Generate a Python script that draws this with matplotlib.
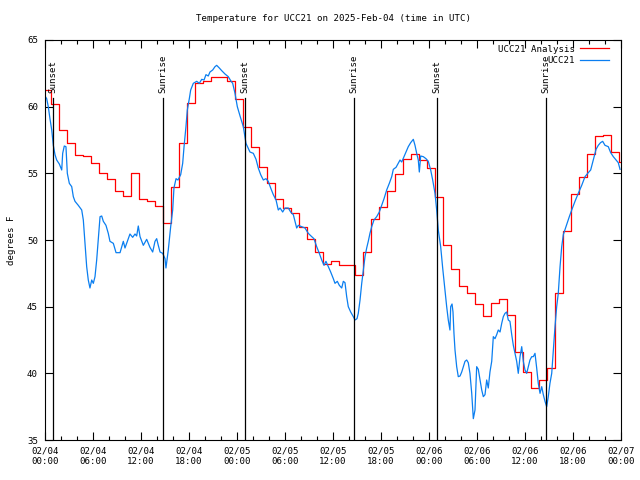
import numpy as np
import matplotlib
matplotlib.use("Agg")
from matplotlib import pyplot as plt
from matplotlib.ticker import MultipleLocator

# hours since 02/04 00:00 UTC
tick_labels = ["02/04\n00:00", "02/04\n06:00", "02/04\n12:00", "02/04\n18:00",
               "02/05\n00:00", "02/05\n06:00", "02/05\n12:00", "02/05\n18:00",
               "02/06\n00:00", "02/06\n06:00", "02/06\n12:00", "02/06\n18:00",
               "02/07\n00:00"]

sun_hours = [1.04, 14.79, 25.0, 38.66, 49.04, 62.66]
sun_labels = ["Sunset", "Sunrise", "Sunset", "Sunrise", "Sunset", "Sunrise"]

# analysis (hourly, stepped)
ana_hours = [0, 0.75, 1.75, 2.75, 3.75, 4.75, 5.75, 6.75, 7.75, 8.75, 9.75,
             10.75, 11.75, 12.75, 13.75, 14.75, 15.75, 16.75, 17.75, 18.75, 19.75,
             20.75, 21.75, 22.75, 23.75, 24.75, 25.75, 26.75, 27.75, 28.75, 29.75,
             30.75, 31.75, 32.75, 33.75, 34.75, 35.75, 36.75, 37.75, 38.75, 39.75,
             40.75, 41.75, 42.75, 43.75, 44.75, 45.75, 46.75, 47.75, 48.75, 49.75,
             50.75, 51.75, 52.75, 53.75, 54.75, 55.75, 56.75, 57.75, 58.75, 59.75,
             60.75, 61.75, 62.75, 63.75, 64.75, 65.75, 66.75, 67.75, 68.75, 69.75,
             70.75, 71.75, 72]
ana_temps = [61.25, 60.2, 58.25, 57.25, 56.4, 56.3, 55.8, 55.05, 54.6, 53.7, 53.3,
             55.05, 53.1, 52.95, 52.55, 51.3, 54.0, 57.25, 60.3, 61.8, 61.9,
             62.25, 62.2, 61.9, 60.55, 58.45, 57.0, 55.5, 54.3, 53.05, 52.4,
             52.0, 50.95, 50.05, 49.1, 48.2, 48.45, 48.1, 48.1, 47.4, 49.1,
             51.6, 52.45, 53.7, 54.95, 56.05, 56.45, 56.0, 55.4, 53.2, 49.6,
             47.8, 46.55, 46.0, 45.2, 44.3, 45.3, 45.6, 44.4, 41.6, 40.1,
             38.9, 39.5, 40.4, 46.0, 50.7, 53.45, 54.7, 56.45, 57.8, 57.9,
             56.6, 55.85, 55.85]

# observations
obs_hours = [0.0, 0.21, 0.41, 0.62, 0.84, 1.04, 1.25, 1.46, 1.79, 2.09, 2.21, 2.41, 2.62,
             2.79, 3.04, 3.34, 3.54, 3.75, 4.16, 4.59, 4.79, 5.0, 5.21, 5.41, 5.62, 5.84,
             6.04, 6.25, 6.46, 6.66, 6.88, 7.09, 7.29, 7.62, 7.91, 8.12, 8.54, 8.88, 9.38,
             9.79, 10.0, 10.29, 10.62, 10.96, 11.25, 11.46, 11.66, 11.88, 12.29, 12.71,
             13.12, 13.46, 13.75, 13.96, 14.16, 14.38, 14.71, 15.0, 15.12, 15.41, 15.71,
             15.96, 16.12, 16.38, 16.62, 16.96, 17.21, 17.38, 17.62, 17.79, 18.04, 18.21,
             18.54, 18.96, 19.29, 19.59, 19.88, 20.12, 20.41, 20.62, 20.96, 21.25, 21.46,
             21.79, 22.09, 22.5, 22.91, 23.21, 23.46, 23.75, 24.04, 24.38, 24.79, 25.12,
             25.62, 26.04, 26.38, 26.66, 26.96, 27.29, 27.62, 27.91, 28.21, 28.54, 28.88,
             29.16, 29.38, 29.71, 30.0, 30.41, 30.71, 31.04, 31.25, 31.46, 31.66, 32.09,
             32.5, 32.91, 33.34, 33.62, 33.96, 34.29, 34.59, 34.88, 35.12, 35.41, 35.71,
             36.04, 36.25, 36.54, 36.79, 37.09, 37.29, 37.5, 37.71, 37.91, 38.21, 38.54,
             38.75, 39.0, 39.16, 39.38, 39.59, 39.79, 40.0, 40.21, 40.41, 40.62, 40.84,
             41.12, 41.46, 41.79, 42.09, 42.38, 42.71, 43.04, 43.34, 43.54, 43.88, 44.16,
             44.38, 44.59, 44.88, 45.12, 45.41, 45.71, 46.04, 46.25, 46.46, 46.66, 46.79,
             46.96, 47.29, 47.62, 47.91, 48.21, 48.46, 48.75, 48.96, 49.16, 49.46, 49.71,
             50.0, 50.21, 50.41, 50.62, 50.71, 50.88, 51.0, 51.12, 51.25, 51.46, 51.66,
             51.88, 52.09, 52.29, 52.5, 52.71, 52.91, 53.12, 53.34, 53.54, 53.75, 53.96,
             54.16, 54.38, 54.59, 54.79, 55.0, 55.21, 55.41, 55.62, 55.84, 56.04, 56.25,
             56.46, 56.66, 56.88, 57.09, 57.29, 57.5, 57.71, 57.91, 58.12, 58.34, 58.54,
             58.75, 58.96, 59.16, 59.38, 59.59, 59.79, 60.0, 60.21, 60.41, 60.62, 60.84,
             61.04, 61.25, 61.46, 61.66, 61.88, 62.09, 62.29, 62.5, 62.71, 62.91, 63.12,
             63.34, 63.54, 63.75, 63.96, 64.16, 64.38, 64.59, 64.79, 65.12, 65.54, 65.84,
             66.25, 66.66, 67.09, 67.5, 67.91, 68.21, 68.54, 68.88, 69.16, 69.44, 69.71,
             70.0, 70.41, 70.71, 71.04, 71.38, 71.66, 71.88]
obs_temps = [60.8, 60.6, 60.0, 59.1, 58.25, 57.1, 56.4, 56.0, 55.7, 55.25, 56.5, 57.05, 57.0,
             55.0, 54.25, 54.0, 53.25, 52.9, 52.6, 52.25, 51.5, 49.75, 48.0, 47.0, 46.4, 47.0,
             46.75, 47.25, 48.5, 50.0, 51.75, 51.8, 51.4, 51.1, 50.5, 49.9, 49.75, 49.05, 49.05,
             49.9, 49.4, 49.9, 50.45, 50.2, 50.45, 50.3, 51.05, 50.25, 49.6, 50.05,
             49.45, 49.1, 49.9, 50.1, 49.6, 49.1, 49.0, 48.6, 47.9, 49.25, 51.0,
             52.25, 53.9, 54.6, 54.5, 54.9, 55.75, 57.0, 58.5, 59.75, 60.6, 61.25,
             61.75, 61.9, 61.75, 62.05, 62.0, 62.4, 62.3, 62.6, 62.75, 63.0, 63.1,
             62.9, 62.7, 62.45, 62.25, 61.95, 61.75, 61.0, 60.0, 59.3, 58.5, 57.25,
             56.6, 56.5, 56.05, 55.4, 54.9, 54.5, 54.6, 54.4, 53.9, 53.4, 53.0,
             52.25, 52.4, 52.1, 52.4, 52.4, 52.1, 51.9, 51.4, 50.9, 51.1, 51.0,
             50.9, 50.5, 50.25, 50.1, 49.5, 49.0, 48.5, 48.1, 48.4, 48.0, 47.6,
             47.1, 46.75, 46.9, 46.6, 46.4, 46.9, 46.8, 45.75, 45.0, 44.6, 44.25,
             44.0, 44.1, 44.5, 45.5, 46.75, 47.75, 48.75, 49.4, 49.9, 50.5, 51.0,
             51.5, 51.75, 52.1, 52.6, 53.1, 53.75, 54.25, 54.75, 55.3, 55.45, 55.75,
             56.0, 55.85, 56.25, 56.6, 57.0, 57.3, 57.55, 57.1, 56.5, 56.0, 55.1,
             56.3, 56.25, 56.1, 55.9, 55.25, 54.5, 53.5, 52.25, 50.75, 49.5, 47.9,
             46.25, 45.0, 44.0, 43.25, 45.0, 45.2, 44.6, 43.0, 41.75, 40.5, 39.75,
             39.8, 40.1, 40.5, 40.9, 41.0, 40.8, 40.0, 38.5, 36.6, 37.25, 40.5,
             40.3, 39.5, 38.75, 38.25, 38.4, 39.5, 38.9, 40.1, 40.9, 42.75, 42.6,
             42.9, 43.25, 43.1, 43.75, 44.25, 44.5, 44.6, 44.0, 43.9, 42.9, 42.1,
             41.5, 40.9, 40.0, 41.25, 42.0, 40.9, 40.25, 40.0, 40.5, 41.0, 41.25,
             41.25, 41.5, 40.4, 39.25, 38.5, 39.0, 38.4, 37.9, 37.5, 38.25, 39.25,
             40.0, 41.75, 43.5, 45.0, 46.0, 48.0, 49.5, 50.4, 51.0, 51.75, 52.25,
             52.9, 53.5, 54.1, 54.75, 55.05, 55.25, 56.0, 56.8, 57.1, 57.3, 57.4,
             57.1, 57.0, 56.55, 56.25, 56.0, 55.8, 55.3]

plt.rcParams['font.family'] = 'DejaVu Sans Mono'
plt.rcParams['font.size'] = 6.6

fig = plt.figure(figsize=(6.4, 4.8), dpi=100)
ax = fig.add_axes([45/640, 40/480, 576/640, 400/480])

ax.step(ana_hours, ana_temps, where='post', color='#ff0000', lw=0.9, label='UCC21 Analysis')
ax.plot(obs_hours, obs_temps, color='#0a7ef0', lw=0.9, label='UCC21')

for h, lab in zip(sun_hours, sun_labels):
    ax.axvline(h, ymin=0, ymax=0.855, color='black', lw=0.9)
    ax.text(h, 0.868, lab, transform=ax.get_xaxis_transform(), rotation=90,
            ha='center', va='bottom', fontsize=6.6)

ax.set_xlim(0, 72)
ax.set_ylim(35, 65)
ax.set_xticks(np.arange(0, 73, 6))
ax.set_xticklabels(tick_labels)
ax.xaxis.set_minor_locator(MultipleLocator(2))
ax.set_yticks(np.arange(35, 66, 5))
ax.tick_params(which='both', direction='in', top=True, right=True, width=0.8)
ax.tick_params(which='major', length=6, pad=5)
ax.tick_params(which='minor', length=3)
for s in ax.spines.values():
    s.set_linewidth(0.8)

ax.set_title('Temperature for UCC21 on 2025-Feb-04 (time in UTC)', fontsize=6.6, pad=14)
ax.set_ylabel('degrees F', labelpad=8)
ax.legend(loc='upper right', bbox_to_anchor=(1 - 8/576, 1 - 1/400), markerfirst=False,
          frameon=False, handlelength=3.2, borderaxespad=0, labelspacing=0.25,
          handletextpad=0.6)

plt.savefig('out.png', dpi=100)
